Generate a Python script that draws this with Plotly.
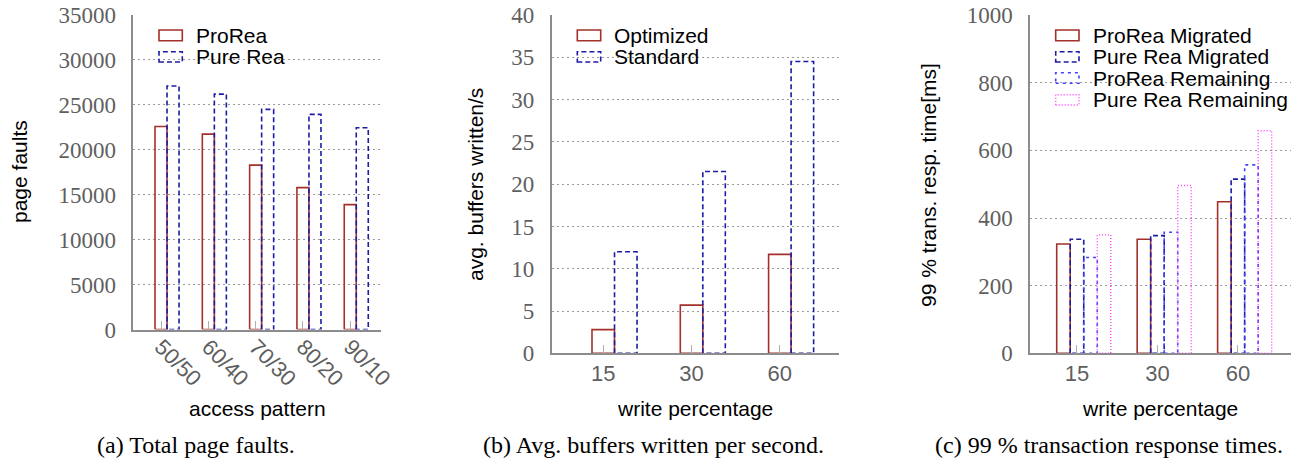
import plotly.graph_objects as go

# ---------------- data ----------------
access_patterns = ["50/50", "60/40", "70/30", "80/20", "90/10"]
prorea_faults = [22600, 21750, 18300, 15800, 13900]
purerea_faults = [27100, 26200, 24500, 23950, 22450]

write_pct = ["15", "30", "60"]
optimized_buffers = [2.8, 5.7, 11.7]
standard_buffers = [12.0, 21.5, 34.5]

prorea_migrated = [323, 337, 448]
purerea_migrated = [337, 348, 515]
prorea_remaining = [283, 358, 557]
purerea_remaining = [350, 496, 658]

# ---------------- styles ----------------
W, H = 1304, 461
RED = "#a3302b"
NAVY = "#1c1ca6"
BLUE = "#4343ff"
MAGENTA = "#ff3dff"
GRID = "#9a9a9a"
AXIS = "#8c8c8c"
TICKTXT = "#5f5f5f"
SANS = "Liberation Sans, Arial, sans-serif"
SERIF = "Liberation Serif, Times New Roman, serif"

STYLE = {
    "solid": dict(color=RED, width=1.6, dash="solid"),
    "navy": dict(color=NAVY, width=1.6, dash="5px,3px"),
    "blue": dict(color=BLUE, width=1.6, dash="3px,4px"),
    "mag": dict(color=MAGENTA, width=1.4, dash="1px,2px"),
}


def px(x):
    return x / W


def py(y):
    return 1 - y / H


def bar_path(values, left, width):
    """Outline path of bars at category index i, from i+left to i+left+width."""
    xs, ys = [], []
    for i, v in enumerate(values):
        x0, x1 = i + left, i + left + width
        xs += [x0, x0, x1, x1, x0, None]
        ys += [0, v, v, 0, 0, None]
    return xs, ys


fig = go.Figure()


def add_bars(values, left, width, style, name, xa, ya):
    xs, ys = bar_path(values, left, width)
    fig.add_trace(go.Scatter(x=xs, y=ys, mode="lines", line=STYLE[style],
                             name=name, showlegend=False, hoverinfo="skip",
                             xaxis=xa, yaxis=ya))


# panel (a)
wa = 0.254
add_bars(prorea_faults, -wa / 2, wa, "solid", "ProRea", "x", "y")
add_bars(purerea_faults, wa / 2, wa, "navy", "Pure Rea", "x", "y")
# panel (b)
wb = 0.255
add_bars(optimized_buffers, -wb / 2, wb, "solid", "Optimized", "x2", "y2")
add_bars(standard_buffers, wb / 2, wb, "navy", "Standard", "x2", "y2")
# panel (c)
wc = 0.168
add_bars(prorea_migrated, -1.5 * wc, wc, "solid", "ProRea Migrated", "x3", "y3")
add_bars(purerea_migrated, -0.5 * wc, wc, "navy", "Pure Rea Migrated", "x3", "y3")
add_bars(prorea_remaining, 0.5 * wc, wc, "blue", "ProRea Remaining", "x3", "y3")
add_bars(purerea_remaining, 1.5 * wc, wc, "mag", "Pure Rea Remaining", "x3", "y3")


def xaxis(dom, rng, labels, angle=0, anchor="y", standoff=0):
    return dict(domain=[px(dom[0]), px(dom[1])], range=rng, anchor=anchor,
                automargin=False, ticklabeloverflow="allow",
                tickmode="array", tickvals=list(range(len(labels))), ticktext=labels,
                tickangle=angle, ticks="inside", ticklen=9, tickwidth=1.2,
                tickcolor="#b0b0b0", showline=True, linecolor=AXIS, linewidth=1.5,
                showgrid=False, zeroline=False, ticklabelstandoff=standoff,
                tickfont=dict(family=SANS, size=22, color=TICKTXT))


def yaxis(dom, top, dtick, anchor="x"):
    return dict(domain=[py(dom[1]), py(dom[0])], range=[0, top * 1.001], anchor=anchor,
                automargin=False, ticklabeloverflow="allow",
                tickmode="linear", dtick=dtick, tick0=0, tickformat="d",
                showline=True, linecolor=AXIS, linewidth=1.5,
                showgrid=True, gridcolor=GRID, griddash="2px,3px", gridwidth=1,
                zeroline=False, ticks="", ticklabelstandoff=11,
                tickfont=dict(family=SERIF, size=23, color=TICKTXT))


fig.update_layout(
    width=W, height=H, autosize=False,
    margin=dict(l=0, r=0, t=0, b=0, pad=0),
    paper_bgcolor="white", plot_bgcolor="white",
    showlegend=False,
    xaxis=xaxis((133.3, 381), [-0.586, 4.65], access_patterns, angle=45, anchor="y",
                standoff=-6),
    yaxis=yaxis((14.7, 329.6), 35000, 5000, anchor="x"),
    xaxis2=xaxis((551.7, 839), [-0.584, 2.67], write_pct, anchor="y2"),
    yaxis2=yaxis((14.7, 353.3), 40, 5, anchor="x2"),
    xaxis3=xaxis((1030, 1291), [-0.584, 2.66], write_pct, anchor="y3"),
    yaxis3=yaxis((14.7, 353.3), 1000, 200, anchor="x3"),
)


# axis titles and captions
def text(x, y, s, size=21, font=SANS, angle=0, color="black", xanchor="center"):
    fig.add_annotation(x=px(x), y=py(y), xref="paper", yref="paper", text=s,
                       showarrow=False, textangle=angle, xanchor=xanchor, yanchor="middle",
                       font=dict(family=font, size=size, color=color))


text(19, 172, "page faults", angle=-90)
text(257, 408, "access pattern")
text(196, 445, "(a) Total page faults.", size=24, font=SERIF)
text(475, 185, "avg. buffers written/s", angle=-90)
text(695, 408, "write percentage")
text(653, 445, "(b) Avg. buffers written per second.", size=24, font=SERIF)
text(928, 185, "99 % trans. resp. time[ms]", angle=-90)
text(1160, 408, "write percentage")
text(1109, 445, "(c) 99 % transaction response times.", size=24, font=SERIF)


# legends (swatch rectangles + labels)
def legend_entry(x0, x1, y0, y1, style, label, tx):
    st = STYLE[style]
    fig.add_shape(type="rect", xref="paper", yref="paper",
                  x0=px(x0), x1=px(x1), y0=py(y1), y1=py(y0),
                  line=dict(color=st["color"], width=st["width"], dash=st["dash"]),
                  fillcolor="rgba(0,0,0,0)", layer="above")
    text(tx, (y0 + y1) / 2, label, size=21, xanchor="left")


rows = [(30, 40.7), (51.7, 62), (72.7, 83.3), (94.7, 105)]
legend_entry(159, 182.3, *rows[0], "solid", "ProRea", 194)
legend_entry(159, 182.3, *rows[1], "navy", "Pure Rea", 194)
legend_entry(577.3, 600.7, *rows[0], "solid", "Optimized", 611.5)
legend_entry(577.3, 600.7, *rows[1], "navy", "Standard", 611.5)
legend_entry(1055.7, 1079, *rows[0], "solid", "ProRea Migrated", 1091)
legend_entry(1055.7, 1079, *rows[1], "navy", "Pure Rea Migrated", 1091)
legend_entry(1055.7, 1079, *rows[2], "blue", "ProRea Remaining", 1091)
legend_entry(1055.7, 1079, *rows[3], "mag", "Pure Rea Remaining", 1091)

# remove the page's default body margin so the 1304x461 figure fills the window
fig.write_html("out.html", config={"displayModeBar": False},
               post_script="document.body.style.margin='0';")
